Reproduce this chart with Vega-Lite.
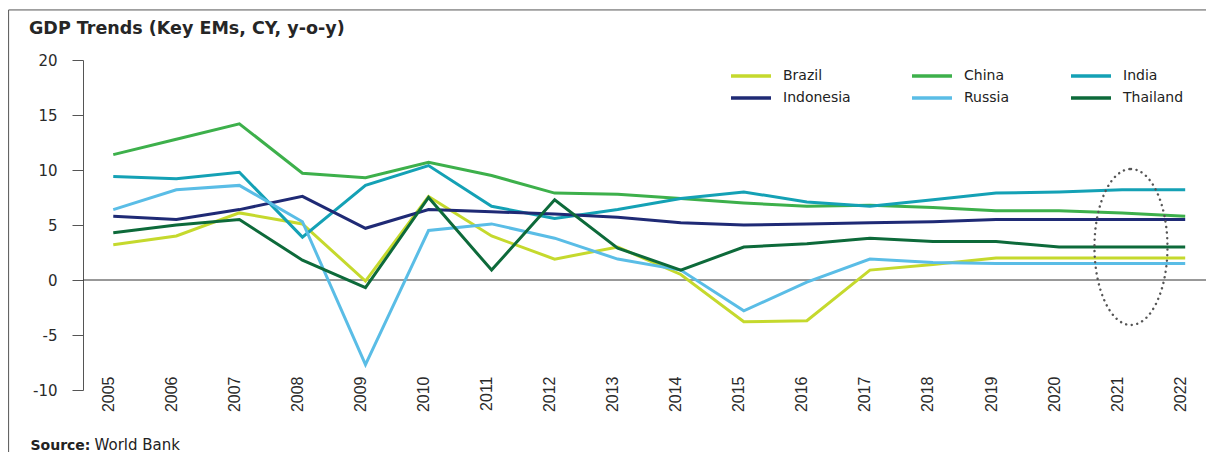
{
  "$schema": "https://vega.github.io/schema/vega-lite/v6.json",
  "width": 1123,
  "height": 330,
  "autosize": {"type": "none"},
  "padding": {"left": 83, "top": 60, "right": 0, "bottom": 62},
  "background": "white",
  "config": {"view": {"stroke": null}},
  "data": {"values": [{"note": "frame"}]},
  "title": {
    "text": "GDP Trends (Key EMs, CY, y-o-y)",
    "anchor": "start",
    "frame": "group",
    "dx": -54,
    "offset": -28,
    "font": "DejaVu Sans",
    "fontSize": 17.5,
    "fontWeight": "bold",
    "color": "#262626"
  },
  "layer": [
    {
      "mark": {"type": "rule", "stroke": "#555555", "strokeWidth": 1},
      "encoding": {
        "x": {"datum": 2003.34, "type": "quantitative"},
        "x2": {"datum": 2022.4},
        "y": {"datum": 24.55, "type": "quantitative"}
      }
    },
    {
      "mark": {"type": "rule", "stroke": "#555555", "strokeWidth": 1},
      "encoding": {
        "x": {"datum": 2003.34, "type": "quantitative"},
        "y": {"datum": 24.55, "type": "quantitative"},
        "y2": {"datum": -15.8}
      }
    },
    {
      "mark": {"type": "rule", "stroke": "#333333", "strokeWidth": 1},
      "encoding": {"y": {"datum": 0, "type": "quantitative"}}
    },
    {
      "data": {
        "values": [
          {"year": 2005, "country": "Brazil", "value": 3.2},
          {"year": 2006, "country": "Brazil", "value": 4.0},
          {"year": 2007, "country": "Brazil", "value": 6.1},
          {"year": 2008, "country": "Brazil", "value": 5.1},
          {"year": 2009, "country": "Brazil", "value": -0.1},
          {"year": 2010, "country": "Brazil", "value": 7.6},
          {"year": 2011, "country": "Brazil", "value": 4.0},
          {"year": 2012, "country": "Brazil", "value": 1.9},
          {"year": 2013, "country": "Brazil", "value": 3.0},
          {"year": 2014, "country": "Brazil", "value": 0.5},
          {"year": 2015, "country": "Brazil", "value": -3.8},
          {"year": 2016, "country": "Brazil", "value": -3.7},
          {"year": 2017, "country": "Brazil", "value": 0.9},
          {"year": 2018, "country": "Brazil", "value": 1.4},
          {"year": 2019, "country": "Brazil", "value": 2.0},
          {"year": 2020, "country": "Brazil", "value": 2.0},
          {"year": 2021, "country": "Brazil", "value": 2.0},
          {"year": 2022, "country": "Brazil", "value": 2.0},
          {"year": 2005, "country": "China", "value": 11.4},
          {"year": 2006, "country": "China", "value": 12.8},
          {"year": 2007, "country": "China", "value": 14.2},
          {"year": 2008, "country": "China", "value": 9.7},
          {"year": 2009, "country": "China", "value": 9.3},
          {"year": 2010, "country": "China", "value": 10.7},
          {"year": 2011, "country": "China", "value": 9.5},
          {"year": 2012, "country": "China", "value": 7.9},
          {"year": 2013, "country": "China", "value": 7.8},
          {"year": 2014, "country": "China", "value": 7.4},
          {"year": 2015, "country": "China", "value": 7.0},
          {"year": 2016, "country": "China", "value": 6.7},
          {"year": 2017, "country": "China", "value": 6.8},
          {"year": 2018, "country": "China", "value": 6.6},
          {"year": 2019, "country": "China", "value": 6.3},
          {"year": 2020, "country": "China", "value": 6.3},
          {"year": 2021, "country": "China", "value": 6.1},
          {"year": 2022, "country": "China", "value": 5.8},
          {"year": 2005, "country": "India", "value": 9.4},
          {"year": 2006, "country": "India", "value": 9.2},
          {"year": 2007, "country": "India", "value": 9.8},
          {"year": 2008, "country": "India", "value": 3.9},
          {"year": 2009, "country": "India", "value": 8.6},
          {"year": 2010, "country": "India", "value": 10.4},
          {"year": 2011, "country": "India", "value": 6.7},
          {"year": 2012, "country": "India", "value": 5.6},
          {"year": 2013, "country": "India", "value": 6.4},
          {"year": 2014, "country": "India", "value": 7.4},
          {"year": 2015, "country": "India", "value": 8.0},
          {"year": 2016, "country": "India", "value": 7.1},
          {"year": 2017, "country": "India", "value": 6.7},
          {"year": 2018, "country": "India", "value": 7.3},
          {"year": 2019, "country": "India", "value": 7.9},
          {"year": 2020, "country": "India", "value": 8.0},
          {"year": 2021, "country": "India", "value": 8.2},
          {"year": 2022, "country": "India", "value": 8.2},
          {"year": 2005, "country": "Indonesia", "value": 5.8},
          {"year": 2006, "country": "Indonesia", "value": 5.5},
          {"year": 2007, "country": "Indonesia", "value": 6.4},
          {"year": 2008, "country": "Indonesia", "value": 7.6},
          {"year": 2009, "country": "Indonesia", "value": 4.7},
          {"year": 2010, "country": "Indonesia", "value": 6.4},
          {"year": 2011, "country": "Indonesia", "value": 6.2},
          {"year": 2012, "country": "Indonesia", "value": 6.0},
          {"year": 2013, "country": "Indonesia", "value": 5.7},
          {"year": 2014, "country": "Indonesia", "value": 5.2},
          {"year": 2015, "country": "Indonesia", "value": 5.0},
          {"year": 2016, "country": "Indonesia", "value": 5.1},
          {"year": 2017, "country": "Indonesia", "value": 5.2},
          {"year": 2018, "country": "Indonesia", "value": 5.3},
          {"year": 2019, "country": "Indonesia", "value": 5.5},
          {"year": 2020, "country": "Indonesia", "value": 5.5},
          {"year": 2021, "country": "Indonesia", "value": 5.5},
          {"year": 2022, "country": "Indonesia", "value": 5.5},
          {"year": 2005, "country": "Russia", "value": 6.4},
          {"year": 2006, "country": "Russia", "value": 8.2},
          {"year": 2007, "country": "Russia", "value": 8.6},
          {"year": 2008, "country": "Russia", "value": 5.3},
          {"year": 2009, "country": "Russia", "value": -7.7},
          {"year": 2010, "country": "Russia", "value": 4.5},
          {"year": 2011, "country": "Russia", "value": 5.1},
          {"year": 2012, "country": "Russia", "value": 3.8},
          {"year": 2013, "country": "Russia", "value": 1.9},
          {"year": 2014, "country": "Russia", "value": 0.9},
          {"year": 2015, "country": "Russia", "value": -2.8},
          {"year": 2016, "country": "Russia", "value": -0.2},
          {"year": 2017, "country": "Russia", "value": 1.9},
          {"year": 2018, "country": "Russia", "value": 1.6},
          {"year": 2019, "country": "Russia", "value": 1.5},
          {"year": 2020, "country": "Russia", "value": 1.5},
          {"year": 2021, "country": "Russia", "value": 1.5},
          {"year": 2022, "country": "Russia", "value": 1.5},
          {"year": 2005, "country": "Thailand", "value": 4.3},
          {"year": 2006, "country": "Thailand", "value": 5.0},
          {"year": 2007, "country": "Thailand", "value": 5.5},
          {"year": 2008, "country": "Thailand", "value": 1.8},
          {"year": 2009, "country": "Thailand", "value": -0.7},
          {"year": 2010, "country": "Thailand", "value": 7.5},
          {"year": 2011, "country": "Thailand", "value": 0.9},
          {"year": 2012, "country": "Thailand", "value": 7.3},
          {"year": 2013, "country": "Thailand", "value": 2.9},
          {"year": 2014, "country": "Thailand", "value": 0.9},
          {"year": 2015, "country": "Thailand", "value": 3.0},
          {"year": 2016, "country": "Thailand", "value": 3.3},
          {"year": 2017, "country": "Thailand", "value": 3.8},
          {"year": 2018, "country": "Thailand", "value": 3.5},
          {"year": 2019, "country": "Thailand", "value": 3.5},
          {"year": 2020, "country": "Thailand", "value": 3.0},
          {"year": 2021, "country": "Thailand", "value": 3.0},
          {"year": 2022, "country": "Thailand", "value": 3.0}
        ]
      },
      "mark": {"type": "line", "strokeWidth": 3},
      "encoding": {
        "x": {
          "field": "year",
          "type": "quantitative",
          "scale": {"domain": [2004.52, 2022.33], "nice": false, "zero": false},
          "axis": {
            "values": [2005, 2006, 2007, 2008, 2009, 2010, 2011, 2012, 2013, 2014, 2015, 2016, 2017, 2018, 2019, 2020, 2021, 2022],
            "format": "d",
            "labelAngle": -90,
            "domain": false,
            "ticks": false,
            "grid": false,
            "labelPadding": -14,
            "labelOffset": -5,
            "labelFont": "Liberation Sans",
            "labelFontSize": 16,
            "labelColor": "#2a2a2a",
            "title": "Source:",
            "titleX": -53,
            "titleY": 59,
            "titleAlign": "left",
            "titleBaseline": "alphabetic",
            "titleFont": "DejaVu Sans",
            "titleFontSize": 14,
            "titleFontWeight": "bold",
            "titleColor": "#222222"
          }
        },
        "y": {
          "field": "value",
          "type": "quantitative",
          "scale": {"domain": [-10, 20], "nice": false},
          "axis": {
            "values": [-10, -5, 0, 5, 10, 15, 20],
            "labelExpr": "datum.value < 0 ? '-' + abs(datum.value) : '' + datum.value",
            "grid": false,
            "domainColor": "#555555",
            "tickColor": "#555555",
            "tickSize": 11,
            "labelPadding": 15,
            "labelFont": "DejaVu Sans",
            "labelFontSize": 15,
            "labelColor": "#2a2a2a",
            "title": "World Bank",
            "titleAngle": 0,
            "titleX": 11,
            "titleY": 389,
            "titleAlign": "left",
            "titleBaseline": "alphabetic",
            "titleFont": "DejaVu Sans",
            "titleFontSize": 15,
            "titleFontWeight": "normal",
            "titleColor": "#222222"
          }
        },
        "color": {
          "field": "country",
          "type": "nominal",
          "scale": {
            "domain": ["Brazil", "China", "India", "Indonesia", "Russia", "Thailand"],
            "range": ["#C5D92D", "#3DB04B", "#14A1B5", "#1F2A75", "#5ABDE6", "#0D6A3A"]
          },
          "legend": {
            "orient": "none",
            "legendX": 656,
            "legendY": 4,
            "direction": "horizontal",
            "columns": 3,
            "title": null,
            "padding": 0,
            "symbolType": "M-2,0H2",
            "symbolSize": 400,
            "symbolStrokeWidth": 3.5,
            "labelFont": "DejaVu Sans",
            "labelFontSize": 14,
            "labelColor": "#222222",
            "labelOffset": 20,
            "columnPadding": 54,
            "rowPadding": 3
          }
        }
      }
    },
    {
      "data": {"values": [{"year": 2021.14, "value": 3.0}]},
      "mark": {
        "type": "point",
        "shape": "M0,-1C0.2585,-1,0.468,-0.5523,0.468,0C0.468,0.5523,0.2585,1,0,1C-0.2585,1,-0.468,0.5523,-0.468,0C-0.468,-0.5523,-0.2585,-1,0,-1Z",
        "size": 24336,
        "filled": false,
        "opacity": 1,
        "stroke": "#555555",
        "strokeWidth": 2.4,
        "strokeDash": [0.1, 5.5],
        "strokeCap": "round"
      },
      "encoding": {
        "x": {"field": "year", "type": "quantitative"},
        "y": {"field": "value", "type": "quantitative"}
      }
    }
  ]
}
